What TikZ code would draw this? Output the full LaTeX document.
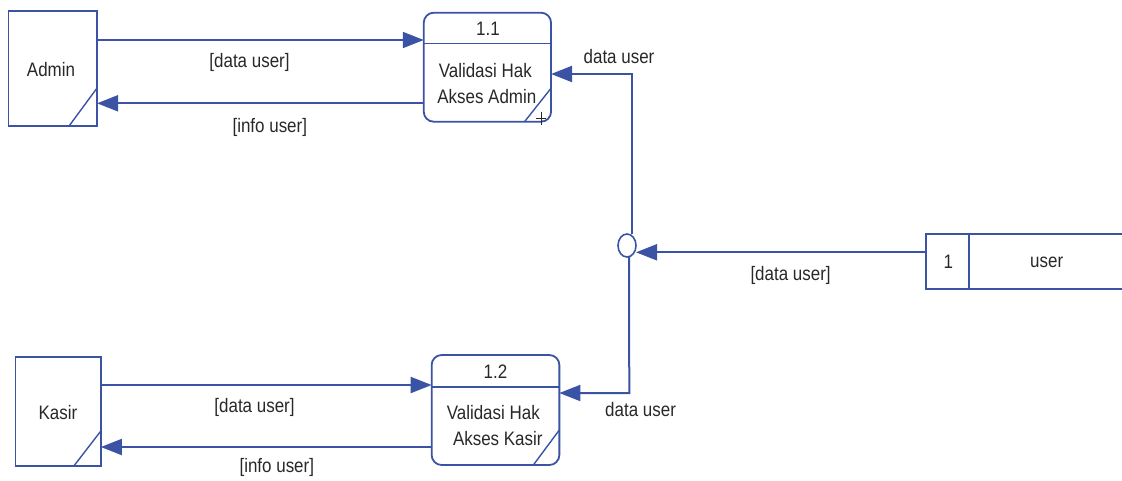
\documentclass[tikz,border=0pt]{standalone}
\usepackage{fontspec}
\setmainfont[FakeStretch=0.87]{Liberation Sans}
\usetikzlibrary{arrows.meta,shapes.geometric}
\definecolor{dfd}{RGB}{58,83,164}
\definecolor{txt}{RGB}{40,40,40}
\tikzset{
  every node/.style={inner sep=0pt,outer sep=0pt,text=txt,font=\fontsize{19.5}{23}\selectfont},
  ext/.style={draw=dfd,line width=1.6pt,rectangle},
  proc/.style={draw=dfd,line width=1.8pt,rectangle,rounded corners=10pt},
  flow/.style={draw=dfd,line width=2pt,-{Triangle[length=21pt,width=16pt]}},
  wire/.style={draw=dfd,line width=2pt},
  thin/.style={draw=dfd,line width=1.4pt},
}
\begin{document}
\begin{tikzpicture}[x=1pt,y=-1pt]
\useasboundingbox (0,0) rectangle (1122,480);
% external entities
\node[ext,minimum width=88.5pt,minimum height=115pt] (admin) at (52.8,68.5) {};
\node (admint) at (51,70) {Admin};
\draw[dfd,line width=2.8pt] (admin.north east) -- (admin.south east) -- (admin.south west);
\draw[thin] ([yshift=38pt]admin.south east) -- ([xshift=-28pt]admin.south east);

\node[ext,minimum width=85.3pt,minimum height=109pt] (kasir) at (58.2,411.5) {};
\node (kasirt) at (58,413) {Kasir};
\draw[dfd,line width=2.6pt] (kasir.north east) -- (kasir.south east) -- (kasir.south west);
\draw[thin] ([yshift=35pt]kasir.south east) -- ([xshift=-27pt]kasir.south east);

% processes
\node[proc,minimum width=127.3pt,minimum height=109pt] (p11) at (487.4,67.2) {};
\draw[wire,line width=1.8pt] (p11.west |- 0,43.5) -- (p11.east |- 0,43.5);
\node (p11n) at (488,29) {1.1};
\node (p11a) at (485.3,71) {Validasi Hak};
\node (p11b) at (486.8,97) {Akses Admin};
\draw[thin] ([yshift=33.5pt]p11.south east) -- ([xshift=-26.5pt]p11.south east);
\draw[draw=txt,line width=1pt] ([xshift=-15pt,yshift=3.5pt]p11.south east) -- ([xshift=-5pt,yshift=3.5pt]p11.south east)
  ([xshift=-10pt,yshift=10pt]p11.south east) -- ([xshift=-10pt,yshift=-3.5pt]p11.south east);

\node[proc,minimum width=127.7pt,minimum height=110pt] (p12) at (495.5,410) {};
\draw[wire,line width=1.8pt] (p12.west |- 0,386.7) -- (p12.east |- 0,386.7);
\node (p12n) at (495.5,371.5) {1.2};
\node (p12a) at (493.3,413) {Validasi Hak};
\node (p12b) at (497.8,439) {Akses Kasir};
\draw[thin] ([yshift=35pt]p12.south east) -- ([xshift=-26pt]p12.south east);

% data store
\node[minimum width=196.3pt,minimum height=55.3pt] (store) at (1023.85,261.7) {};
\draw[dfd,line width=2pt] (store.north east) -- (store.north west) -- (store.south west) -- (store.south east);
\draw[dfd,line width=2pt] (store.north west -| 969,0) -- (store.south west -| 969,0);
\node (storen) at (948.3,262) {1};
\node (storet) at (1046.7,262) {user};

% junction
\node[ellipse,draw=dfd,line width=1.6pt,minimum width=18pt,minimum height=23pt] (junc) at (627,245.5) {};

% flows
\draw[flow] (admin.east |- 0,40) -- (p11.west |- 0,40);
\node (l1) at (249.5,62) {[data user]};
\draw[flow] (p11.west |- 0,103.3) -- (admin.east |- 0,103.3);
\node (l2) at (269.8,127) {[info user]};

\draw[flow] (kasir.east |- 0,385) -- (p12.west |- 0,385);
\node (l3) at (254.5,407) {[data user]};
\draw[flow] (p12.west |- 0,447) -- (kasir.east |- 0,447);
\node (l4) at (276.8,467) {[info user]};

\draw[flow] (store.west |- 0,252.3) -- (junc.east |- 0,252.3);
\node (l5) at (790.6,275) {[data user]};

\draw[flow] ([xshift=4.5pt]junc.north) -- (631.5,74) -- (p11.east |- 0,74);
\node (l6) at (619,57) {data user};
\draw[flow] ([xshift=2pt]junc.south) -- (629.3,393) -- (p12.east |- 0,393);
\node (l7) at (640.6,410) {data user};
\end{tikzpicture}
\end{document}
